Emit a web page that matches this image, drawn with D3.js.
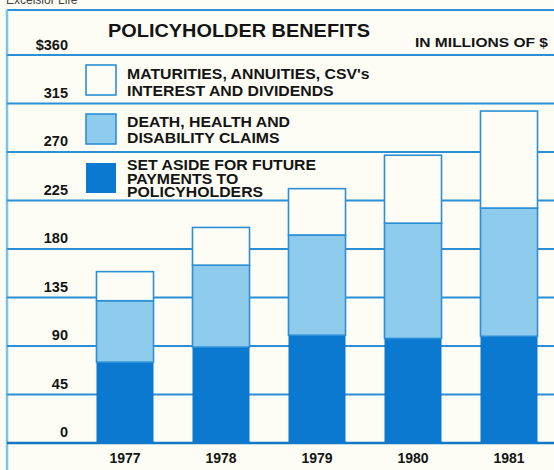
<!DOCTYPE html>
<html>
<head>
<meta charset="utf-8">
<script src="https://cdn.jsdelivr.net/npm/d3@7"></script>
<style>
  body { margin: 0; background: #fdfdf5; }
  text { font-family: "Liberation Sans", Arial, sans-serif; font-weight: bold; fill: #141414; }
</style>
</head>
<body>
<div id="chart"></div>
<script>
// values, in millions of $
var years = ["1977", "1978", "1979", "1980", "1981"];
var setAside = [75, 89, 100, 97, 99];
var deathClaims = [57, 76, 93, 107, 119];
var maturities = [27, 35, 43, 63, 90];
var yTicks = [0, 45, 90, 135, 180, 225, 270, 315, 360];

var legendLabels = [
  ["MATURITIES, ANNUITIES, CSV's", "INTEREST AND DIVIDENDS"],
  ["DEATH, HEALTH AND", "DISABILITY CLAIMS"],
  ["SET ASIDE FOR FUTURE", "PAYMENTS TO", "POLICYHOLDERS"]
];

var svgWidth = 554;
var svgHeight = 470;
var lineColor = "#2a8fd6";
var colors = { maturities: "#fdfdf5", deathClaims: "#8ecbec", setAside: "#0b79d0" };

var svg = d3.select("#chart")
  .append("svg")
  .attr("width", svgWidth)
  .attr("height", svgHeight);

// build table for the stack
var table = years.map(function(y, i) {
  return { year: y, setAside: setAside[i], deathClaims: deathClaims[i], maturities: maturities[i] };
});
var keys = ["setAside", "deathClaims", "maturities"];
var stacked = d3.stack().keys(keys)(table);

var xBand = d3.scaleBand()
  .domain(years)
  .range([77, 557])
  .paddingInner(0.406)
  .paddingOuter(0.203);

var yScale = d3.scaleLinear()
  .domain([0, 360])
  .range([443, 55]);

// header text, cut by the top edge as in the scan
svg.append("text")
  .attr("x", 6)
  .attr("y", 4)
  .style("font-weight", "normal")
  .style("font-size", "12px")
  .style("fill", "#444")
  .text("Excelsior Life");

// frame
svg.append("line")
  .attr("x1", 7).attr("x2", svgWidth)
  .attr("y1", 10).attr("y2", 10)
  .attr("stroke", lineColor).attr("stroke-width", 2);
svg.append("line")
  .attr("x1", 7).attr("x2", 7)
  .attr("y1", 10).attr("y2", svgHeight)
  .attr("stroke", "#7cc3ea").attr("stroke-width", 2.5);

// gridlines
svg.append("g")
  .selectAll("line")
  .data(yTicks.filter(d => d > 0))
  .enter()
  .append("line")
  .attr("x1", 7).attr("x2", svgWidth)
  .attr("y1", d => yScale(d)).attr("y2", d => yScale(d))
  .attr("stroke", lineColor)
  .attr("stroke-width", 2);

// tick labels
svg.append("g")
  .selectAll("text")
  .data(yTicks)
  .enter()
  .append("text")
  .attr("x", 68)
  .attr("y", d => yScale(d) - (d == 360 ? 5 : 6))
  .attr("text-anchor", "end")
  .style("font-size", "14.5px")
  .text(d => d == 360 ? "$" + d : d);

// bars
var layers = svg.append("g")
  .selectAll("g")
  .data(stacked)
  .enter()
  .append("g")
  .attr("fill", d => colors[d.key]);

layers.selectAll("rect")
  .data(d => d)
  .enter()
  .append("rect")
  .attr("x", d => xBand(d.data.year))
  .attr("y", d => yScale(d[1]))
  .attr("width", xBand.bandwidth())
  .attr("height", d => yScale(d[0]) - yScale(d[1]))
  .attr("stroke", function(d) { return d3.select(this.parentNode).datum().key == "setAside" ? "none" : lineColor; })
  .attr("stroke-width", 1.6);

// zero axis line
svg.append("line")
  .attr("x1", 7).attr("x2", svgWidth)
  .attr("y1", yScale(0)).attr("y2", yScale(0))
  .attr("stroke", "#1478c8")
  .attr("stroke-width", 2.5);

// year labels
svg.append("g")
  .selectAll("text")
  .data(years)
  .enter()
  .append("text")
  .attr("x", d => xBand(d) + xBand.bandwidth() / 2)
  .attr("y", 463)
  .attr("text-anchor", "middle")
  .style("font-size", "14px")
  .text(d => d);

// titles
svg.append("text")
  .attr("x", 108)
  .attr("y", 37)
  .attr("textLength", 262)
  .attr("lengthAdjust", "spacingAndGlyphs")
  .style("font-size", "17.5px")
  .text("POLICYHOLDER BENEFITS");

svg.append("text")
  .attr("x", 415)
  .attr("y", 47)
  .attr("textLength", 133)
  .attr("lengthAdjust", "spacingAndGlyphs")
  .style("font-size", "13px")
  .text("IN MILLIONS OF $");

// legend
var legendKeys = ["maturities", "deathClaims", "setAside"];
var legendTop = [65, 114, 163];
var legendBase = [[79, 96], [127, 143], [170, 184, 197]];

var legend = svg.selectAll(".legend")
  .data(legendKeys)
  .enter()
  .append("g")
  .attr("class", "legend");

legend.append("rect")
  .attr("x", 86)
  .attr("y", (d, i) => legendTop[i])
  .attr("width", 30)
  .attr("height", 30)
  .attr("fill", d => colors[d])
  .attr("stroke", d => d == "setAside" ? "none" : lineColor)
  .attr("stroke-width", 1.6);

// the printed face is wider than Arial, so stretch the legend text a little
legend.each(function(d, i) {
  var g = d3.select(this);
  legendLabels[i].forEach(function(line, j) {
    g.append("text")
      .attr("transform", `translate(127, ${legendBase[i][j]}) scale(1.13, 1)`)
      .style("font-size", "14px")
      .text(line);
  });
});
</script>
</body>
</html>
